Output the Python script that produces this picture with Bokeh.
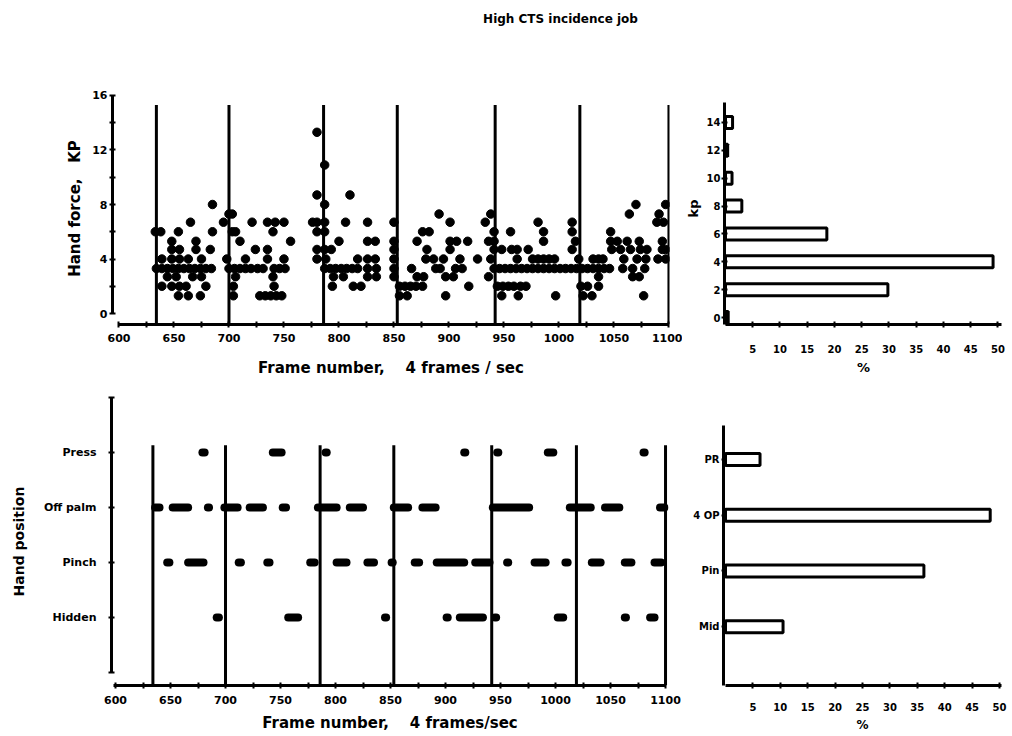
from bokeh.plotting import figure
from bokeh.layouts import column, row
from bokeh.models import FixedTicker, Range1d
from bokeh.embed import file_html
from bokeh.resources import INLINE

FONT = "DejaVu Sans"
NB = "\u00a0"

title_text = "High CTS incidence job"

# ---------------- data ----------------
cycle_bounds = [634, 700, 786, 853, 942, 1019, 1100]
frame_ticks = [600, 650, 700, 750, 800, 850, 900, 950, 1000, 1050, 1100]
frame_minor = [625, 675, 725, 775, 825, 875, 925, 975, 1025, 1075]
force_ticks = [0, 4, 8, 12, 16]
force_minor = [2, 6, 10, 14]

force_frame = [
    633, 638, 654, 665, 685, 685, 695, 700, 648, 670, 648, 655, 670, 683,
    639, 648, 655, 663, 675, 698, 634, 639, 644, 649, 654, 659, 664, 669, 674, 679, 684,
    644, 652, 667, 675, 639, 648, 655, 661, 679, 654, 663, 674,
    703, 721, 735, 742, 750, 703, 706, 740, 710, 756, 724, 735, 715, 735, 750,
    700, 705, 710, 715, 720, 726, 731, 741, 746, 751, 706, 740, 704, 741,
    704, 728, 733, 738, 743, 748,
    780, 787, 780, 787, 810, 776, 780, 787, 806, 826, 780, 787, 800, 826, 833,
    780, 787, 793, 780, 788, 817, 826, 833, 787, 792, 797, 802, 807, 812, 817, 826, 834,
    795, 804, 826, 834, 794, 813, 820, 850, 850, 850, 850, 850, 850,
    891, 901, 876, 882, 871, 901, 907, 917, 880, 901, 879, 886, 895, 910, 926,
    866, 888, 892, 906, 912, 871, 877, 897, 904, 855, 860, 865, 870, 876, 918,
    855, 862, 897, 933, 938, 936, 941, 941, 938, 936, 941, 941,
    956, 981, 986, 986, 948, 957, 962, 972, 962, 976, 981, 986, 991, 996,
    946, 951, 956, 961, 966, 971, 976, 981, 986, 991, 996, 1001, 1006, 1011, 1016,
    944, 949, 954, 959, 965, 970, 948, 963, 997, 1012, 1012, 1015, 1012, 1018,
    1020, 1022, 1030, 1026, 1031, 1036, 1040, 1021, 1026, 1031, 1036, 1041, 1046,
    1036, 1036, 1047, 1047, 1053, 1062, 1073, 1048, 1056, 1065, 1074, 1080,
    1059, 1071, 1079, 1058, 1067, 1078, 1067, 1073, 1077, 1064, 1070,
    1091, 1097, 1089, 1095, 1094, 1094, 1097, 1090, 1097,
]
force_kp = [
    6.0, 6.0, 6.0, 6.7, 8.0, 6.0, 6.7, 7.3, 5.3, 5.3, 4.7, 4.7, 4.7, 4.7,
    4.0, 4.0, 4.0, 4.0, 4.0, 4.0, 3.3, 3.3, 3.3, 3.3, 3.3, 3.3, 3.3, 3.3, 3.3, 3.3, 3.3,
    2.7, 2.7, 2.7, 2.7, 2.0, 2.0, 2.0, 2.0, 2.0, 1.3, 1.3, 1.3,
    7.3, 6.7, 6.7, 6.7, 6.7, 6.0, 6.0, 6.0, 5.3, 5.3, 4.7, 4.7, 4.0, 4.0, 4.0,
    3.3, 3.3, 3.3, 3.3, 3.3, 3.3, 3.3, 3.3, 3.3, 3.3, 2.7, 2.7, 2.0, 2.0,
    1.3, 1.3, 1.3, 1.3, 1.3, 1.3,
    13.3, 10.9, 8.7, 8.0, 8.7, 6.7, 6.7, 6.7, 6.7, 6.7, 6.0, 6.0, 5.3, 5.3, 5.3,
    4.7, 4.7, 4.7, 4.0, 4.0, 4.0, 4.0, 4.0, 3.3, 3.3, 3.3, 3.3, 3.3, 3.3, 3.3, 3.3, 3.3,
    2.7, 2.7, 2.7, 2.7, 2.0, 2.0, 2.0, 6.7, 5.3, 4.7, 4.0, 3.3, 2.7,
    7.3, 6.7, 6.0, 6.0, 5.3, 5.3, 5.3, 5.3, 4.7, 4.7, 4.0, 4.0, 4.0, 4.0, 4.0,
    3.3, 3.3, 3.3, 3.3, 3.3, 2.7, 2.7, 2.7, 2.7, 2.0, 2.0, 2.0, 2.0, 2.0, 2.0,
    1.3, 1.3, 1.3, 6.7, 7.3, 5.3, 5.3, 4.7, 4.0, 2.7, 6.0, 3.3,
    6.0, 6.7, 6.0, 5.3, 4.7, 4.7, 4.7, 4.7, 4.0, 4.0, 4.0, 4.0, 4.0, 4.0,
    3.3, 3.3, 3.3, 3.3, 3.3, 3.3, 3.3, 3.3, 3.3, 3.3, 3.3, 3.3, 3.3, 3.3, 3.3,
    2.0, 2.0, 2.0, 2.0, 2.0, 2.0, 1.3, 1.3, 1.3, 6.7, 6.0, 5.3, 4.7, 4.0,
    2.0, 1.3, 1.3, 2.0, 4.0, 4.0, 4.0, 3.3, 3.3, 3.3, 3.3, 3.3, 3.3,
    2.7, 2.0, 6.0, 5.3, 5.3, 5.3, 5.3, 4.7, 4.7, 4.7, 4.7, 4.7,
    4.0, 4.0, 4.0, 3.3, 3.3, 3.3, 2.7, 2.7, 1.3, 7.3, 8.0,
    7.3, 8.0, 6.7, 6.7, 5.3, 4.7, 4.7, 4.0, 4.0,
]

kp_levels = [0, 2, 4, 6, 8, 10, 12, 14]
kp_pct = [0.5, 29.8, 49.1, 18.6, 3.0, 1.2, 0.4, 1.3]
pct_ticks = [5, 10, 15, 20, 25, 30, 35, 40, 45, 50]

position_levels = [1, 2, 3, 4]
position_names = ["Hidden", "Pinch", "Off palm", "Press"]
position_short = ["Mid", "Pin", "4 OP", "PR"]
position_pct = [10.5, 36.2, 48.3, 6.3]

press_runs = [(679, 681), (743, 751), (791, 792), (917, 918), (947, 948), (993, 998), (1080, 1081)]
offpalm_runs = [(636, 640), (652, 666), (684, 685), (699, 711), (722, 734), (752, 755),
                (784, 801), (813, 825), (853, 866), (879, 891), (943, 976), (1013, 1032),
                (1045, 1058), (1095, 1099)]
pinch_runs = [(647, 649), (666, 680), (712, 714), (738, 740), (777, 781), (801, 810),
              (829, 835), (851, 852), (872, 876), (892, 917), (927, 940), (956, 957),
              (981, 991), (1009, 1011), (1033, 1041), (1063, 1069), (1090, 1096)]
hidden_runs = [(692, 694), (757, 766), (845, 846), (901, 902), (913, 934), (945, 946),
               (1002, 1007), (1063, 1064), (1086, 1090)]

# ---------------- layout constants ----------------
TOP1, H1, BOT1 = 52, 232, 61
TOP2, H2, BOT2 = 12, 288, 50


def style(p, tick_font="11px", label_font="14px"):
    p.grid.visible = False
    p.outline_line_color = None
    p.background_fill_color = "white"
    p.border_fill_color = "white"
    for ax in p.axis:
        ax.axis_line_width = 3
        ax.axis_line_color = "black"
        ax.major_tick_line_width = 2
        ax.minor_tick_line_width = 2
        ax.major_tick_line_color = "black"
        ax.minor_tick_line_color = "black"
        ax.major_tick_in = 3
        ax.major_tick_out = 3
        ax.minor_tick_in = 3
        ax.minor_tick_out = 3
        ax.major_label_text_font = FONT
        ax.major_label_text_font_style = "bold"
        ax.major_label_text_font_size = tick_font
        ax.major_label_text_color = "black"
        ax.axis_label_text_font = FONT
        ax.axis_label_text_font_style = "bold"
        ax.axis_label_text_font_size = label_font
        ax.axis_label_text_color = "black"


# ---------------- title ----------------
p0 = figure(width=1010, height=40, x_axis_type=None, y_axis_type=None,
            toolbar_location=None, output_backend="svg", title=title_text,
            min_border_left=110, min_border_right=0, min_border_top=30, min_border_bottom=0)
p0.title.align = "center"
p0.title.text_font = FONT
p0.title.text_font_style = "bold"
p0.title.text_font_size = "12px"
p0.title.text_color = "black"
p0.outline_line_color = None
p0.grid.visible = False

# ---------------- top-left: hand force ----------------
p1 = figure(frame_width=557, frame_height=H1,
            x_range=Range1d(594.1, 1100.5), y_range=Range1d(-0.807, 16.22),
            min_border_left=112, min_border_right=13, min_border_top=TOP1, min_border_bottom=BOT1,
            toolbar_location=None, output_backend="svg")
p1.segment(x0=cycle_bounds, y0=-0.807, x1=cycle_bounds, y1=15.3, line_color="black", line_width=3)
p1.scatter(force_frame, force_kp, size=8.5, color="black")
style(p1, label_font="15px")
p1.xaxis.ticker = FixedTicker(ticks=frame_ticks, minor_ticks=frame_minor)
p1.yaxis.ticker = FixedTicker(ticks=force_ticks, minor_ticks=force_minor)
p1.xaxis.bounds = (600, 1100)
p1.yaxis.bounds = (0, 16)
p1.xaxis.axis_label = "Frame number," + NB * 4 + "4 frames / sec"
p1.yaxis.axis_label = "Hand force," + NB * 3 + "KP"
p1.xaxis.major_label_standoff = 6
p1.xaxis.axis_label_standoff = 14
p1.yaxis.major_label_standoff = 2
p1.yaxis.axis_label_standoff = 5

# ---------------- top-right: kp histogram ----------------
p2 = figure(frame_width=278, frame_height=H1,
            x_range=Range1d(-0.18, 50.83), y_range=Range1d(-0.5, 16.15),
            min_border_left=42, min_border_right=8, min_border_top=TOP1, min_border_bottom=BOT1,
            toolbar_location=None, output_backend="svg")
p2.hbar(y=kp_levels, right=kp_pct, left=0, height=0.86, fill_color="white",
        line_color="black", line_width=3)
style(p2, tick_font="10px", label_font="13px")
p2.xaxis.ticker = FixedTicker(ticks=pct_ticks)
p2.yaxis.ticker = FixedTicker(ticks=kp_levels)
p2.xaxis.bounds = (0, 50.6)
p2.yaxis.bounds = (-0.5, 15.43)
p2.xaxis.axis_label = "%"
p2.yaxis.axis_label = "kp"
p2.xaxis.major_label_standoff = 17
p2.xaxis.axis_label_standoff = 4
p2.yaxis.major_label_standoff = 1
p2.yaxis.axis_label_standoff = 3

# ---------------- bottom-left: hand position ----------------
p3 = figure(frame_width=557, frame_height=H2,
            x_range=Range1d(596.36, 1102.7), y_range=Range1d(-0.236, 5.0),
            min_border_left=111, min_border_right=15, min_border_top=TOP2, min_border_bottom=BOT2,
            toolbar_location=None, output_backend="svg")
p3.segment(x0=cycle_bounds, y0=-0.236, x1=cycle_bounds, y1=4.13, line_color="black", line_width=3)
for level, runs in zip(position_levels, [hidden_runs, pinch_runs, offpalm_runs, press_runs]):
    p3.segment(x0=[r[0] for r in runs], y0=level, x1=[r[1] for r in runs], y1=level,
               line_color="black", line_width=8, line_cap="round")
style(p3, label_font="15px")
p3.yaxis.axis_label_text_font_size = "14px"
p3.xaxis.ticker = FixedTicker(ticks=frame_ticks, minor_ticks=frame_minor)
p3.yaxis.ticker = FixedTicker(ticks=[0] + position_levels + [5])
p3.yaxis.major_label_overrides = {0: "", 5: "", **{lv: nm for lv, nm in zip(position_levels, position_names)}}
p3.xaxis.bounds = (598, 1100)
p3.yaxis.bounds = (0, 5)
p3.xaxis.axis_label = "Frame number," + NB * 4 + "4 frames/sec"
p3.yaxis.axis_label = "Hand position"
p3.xaxis.major_label_standoff = 7
p3.xaxis.axis_label_standoff = 7
p3.yaxis.major_label_standoff = 12
p3.yaxis.axis_label_standoff = 14

# ---------------- bottom-right: position histogram ----------------
p4 = figure(frame_width=278, frame_height=H2,
            x_range=Range1d(-0.365, 50.36), y_range=Range1d(-0.054, 5.11),
            min_border_left=40, min_border_right=8, min_border_top=TOP2, min_border_bottom=BOT2,
            toolbar_location=None, output_backend="svg")
p4.hbar(y=position_levels, right=position_pct, left=0, height=0.215, fill_color="white",
        line_color="black", line_width=3)
style(p4, tick_font="10px", label_font="12px")
p4.xaxis.ticker = FixedTicker(ticks=pct_ticks)
p4.yaxis.ticker = FixedTicker(ticks=position_levels)
p4.yaxis.major_label_overrides = {lv: nm for lv, nm in zip(position_levels, position_short)}
p4.xaxis.bounds = (0, 50.6)
p4.yaxis.bounds = (-0.054, 4.6)
p4.xaxis.axis_label = "%"
p4.xaxis.major_label_standoff = 14
p4.xaxis.axis_label_standoff = 4
p4.yaxis.major_label_standoff = 2
p4.yaxis.major_tick_out = 2

layout = column(p0, row(p1, p2), row(p3, p4))

with open("out.html", "w") as f:
    f.write(file_html(layout, INLINE))
